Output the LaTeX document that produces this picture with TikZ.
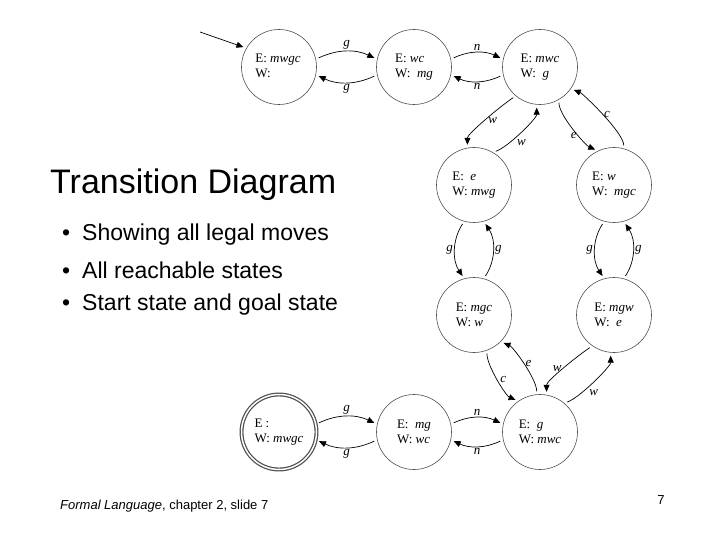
\documentclass[tikz,border=0pt]{standalone}
\usepackage{fontspec}
\setmainfont{Liberation Sans}
\newfontfamily\serf{Liberation Serif}
\usetikzlibrary{arrows.meta}
\begin{document}
\begin{tikzpicture}[x=1pt,y=-1pt,
  st/.style={circle,draw=black!70,line width=0.6pt,minimum size=75pt,inner sep=0pt,font=\serf\fontsize{13}{15}\selectfont,align=left},
  tr/.style={-{Triangle[length=7pt,width=6pt]},line width=0.7pt,shorten <=3pt,shorten >=3pt},
  lb/.style={font=\serf\itshape\fontsize{13}{13}\selectfont,inner sep=2pt}]
\useasboundingbox (0,0) rectangle (720,540);
\node[st] (A) at (279,67) {E: \textit{mwgc}\\W:\phantom{mwgc}};
\node[st] (B) at (414,67) {E: \textit{wc}\\W: \ \textit{mg}};
\node[st] (C) at (540,67) {E: \textit{mwc}\\W: \ \textit{g}};
\node[st] (D) at (474,185) {E: \ \textit{e}\\W: \textit{mwg}};
\node[st] (E) at (614,185) {E: \textit{w}\\W: \ \textit{mgc}};
\node[st] (F) at (474,315) {E: \textit{mgc}\\W: \textit{w}};
\node[st] (G) at (614,315) {E: \textit{mgw}\\W: \ \textit{e}};
\node[st,double,double distance=1.5pt,line width=1.2pt] (H) at (279,432) {E :\\W: \textit{mwgc}};
\node[st] (I) at (414,432) {E: \ \textit{mg}\\W: \textit{wc}};
\node[st] (J) at (540,432) {E: \ \textit{g}\\W: \textit{mwc}};
\coordinate (s) at (200,32);
\draw[tr,shorten <=0pt] (s) -- (A.150);
% horizontal pairs
\foreach \p/\q/\l in {A/B/g,B/C/n,H/I/g,I/J/n}{
  \draw[tr] (\p.12) to[bend left=25] node[lb,above]{\l} (\q.168);
  \draw[tr] (\q.-168) to[bend left=25] node[lb,below]{\l} (\p.-12);
}
% diagonal pairs
\draw[tr] (C.-130) .. controls +(-15,10) and +(0,-14) .. node[lb,right,pos=0.5]{w} (D.100);
\draw[tr] (D.60) .. controls +(15,-5) and +(0,14) .. node[lb,below right,pos=0.4]{w} (C.-95);
\draw[tr] (C.-60) .. controls +(0,16) and +(-12,-5) .. node[lb,left,pos=0.6]{e} (E.115);
\draw[tr] (E.75) .. controls +(0,-16) and +(12,5) .. node[lb,right,pos=0.5]{c} (C.-35);
\draw[tr] (F.-70) .. controls +(0,16) and +(-12,-5) .. node[lb,right,pos=0.5]{c} (J.125);
\draw[tr] (J.95) .. controls +(0,-16) and +(12,5) .. node[lb,right,pos=0.5]{e} (F.-45);
\draw[tr] (G.-125) .. controls +(-15,10) and +(0,-14) .. node[lb,left,pos=0.5]{w} (J.80);
\draw[tr] (J.50) .. controls +(15,-5) and +(0,14) .. node[lb,below right,pos=0.4]{w} (G.-95);
% vertical pairs
\foreach \p/\q in {D/F,E/G}{
  \draw[tr] (\p.-105) .. controls +(-12,18) and +(-12,-18) .. node[lb,left]{g} (\q.105);
  \draw[tr] (\q.75) .. controls +(12,-18) and +(12,18) .. node[lb,right]{g} (\p.-75);
}
% text
\node[anchor=west,font=\fontsize{34}{38}\selectfont,inner sep=0] (t) at (50,185) {Transition Diagram};
\node[anchor=west,font=\fontsize{23}{26}\selectfont,inner sep=0] (b1) at (62,235) {•\hspace{12pt}Showing all legal moves};
\node[anchor=west,font=\fontsize{23}{26}\selectfont,inner sep=0] (b2) at (62,270) {•\hspace{12pt}All reachable states};
\node[anchor=west,font=\fontsize{23}{26}\selectfont,inner sep=0] (b3) at (62,305) {•\hspace{12pt}Start state and goal state};
\node[anchor=west,font=\fontsize{13}{15}\selectfont,inner sep=0] (f) at (60,506) {\textit{Formal Language}, chapter 2, slide 7};
\node[font=\fontsize{13}{15}\selectfont,inner sep=0] (n) at (661,500) {7};
\end{tikzpicture}
\end{document}
